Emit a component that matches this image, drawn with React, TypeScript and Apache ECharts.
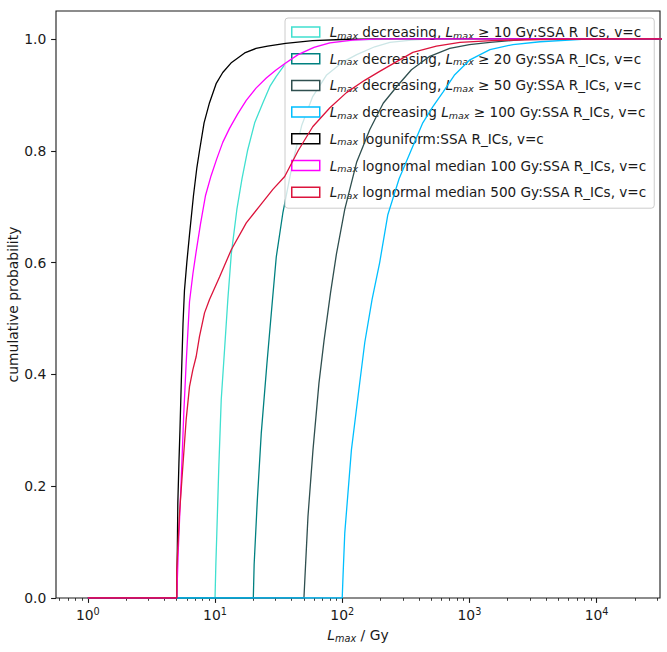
import { useEffect, useRef } from 'react';
import * as echarts from 'echarts';

const FONT = 'DejaVu Sans';
const TEXT = '#1a1a1a';

// tick positions on the log x axis and the linear y axis
const xMajorTicks = [1, 10, 100, 1000, 10000];
const xMinorTicks = [
    0.6, 0.7, 0.8, 0.9,
    2, 3, 4, 5, 6, 7, 8, 9,
    20, 30, 40, 50, 60, 70, 80, 90,
    200, 300, 400, 500, 600, 700, 800, 900,
    2000, 3000, 4000, 5000, 6000, 7000, 8000, 9000,
    20000, 30000,
];
const yTicks = [0, 0.2, 0.4, 0.6, 0.8, 1.0];

const seriesNames = [
    'Lmax decreasing, Lmax ≥ 10 Gy:SSA R_ICs, v=c',
    'Lmax decreasing, Lmax ≥ 20 Gy:SSA R_ICs, v=c',
    'Lmax decreasing, Lmax ≥ 50 Gy:SSA R_ICs, v=c',
    'Lmax decreasing Lmax ≥ 100 Gy:SSA R_ICs, v=c',
    'Lmax loguniform:SSA R_ICs, v=c',
    'Lmax lognormal median 100 Gy:SSA R_ICs, v=c',
    'Lmax lognormal median 500 Gy:SSA R_ICs, v=c',
];
const legendLabels = [
    '{i|L}{s|max} decreasing, {i|L}{s|max} ≥ 10 Gy:SSA R_ICs, v=c',
    '{i|L}{s|max} decreasing, {i|L}{s|max} ≥ 20 Gy:SSA R_ICs, v=c',
    '{i|L}{s|max} decreasing, {i|L}{s|max} ≥ 50 Gy:SSA R_ICs, v=c',
    '{i|L}{s|max} decreasing {i|L}{s|max} ≥ 100 Gy:SSA R_ICs, v=c',
    '{i|L}{s|max} loguniform:SSA R_ICs, v=c',
    '{i|L}{s|max} lognormal median 100 Gy:SSA R_ICs, v=c',
    '{i|L}{s|max} lognormal median 500 Gy:SSA R_ICs, v=c',
];
const seriesColors = ['#40E0D0', '#008080', '#2F4F4F', '#00BFFF', '#000000', '#FF00FF', '#DC143C'];

// cumulative probability vs Lmax [Gy]
const decreasing10 = [
    [1, 0], [10, 0], [10.15, 0.06], [10.33, 0.116], [10.71, 0.235], [11.19, 0.355], [11.88, 0.444],
    [12.61, 0.534], [13.42, 0.615], [14.85, 0.695], [16.3, 0.75], [18.0, 0.8], [20.5, 0.85],
    [23.8, 0.886], [27, 0.915], [30.3, 0.933], [35.3, 0.954], [42, 0.968], [50, 0.978], [65, 0.988],
    [80, 0.993], [120, 0.997], [200, 0.999], [300, 1], [40000, 1],
];
const decreasing20 = [
    [1, 0], [20, 0], [20.3, 0.06], [21.5, 0.175], [23.1, 0.295], [25.6, 0.42], [28.2, 0.53],
    [30.3, 0.61], [34.2, 0.69], [40.8, 0.779], [48, 0.845], [58.6, 0.897], [75, 0.935], [100, 0.958],
    [130, 0.972], [180, 0.986], [237, 0.994], [350, 0.998], [500, 1], [40000, 1],
];
const decreasing50 = [
    [1, 0], [50, 0], [51, 0.04], [53.8, 0.146], [58.9, 0.265], [65.6, 0.384], [71.9, 0.46],
    [80.8, 0.545], [90, 0.615], [104.7, 0.695], [130, 0.78], [164.8, 0.838], [210, 0.885],
    [268.7, 0.915], [350, 0.945], [488, 0.969], [700, 0.983], [1000, 0.99], [1450, 0.994],
    [3000, 1], [40000, 1],
];
const decreasing100 = [
    [1, 0], [100, 0], [101.5, 0.04], [104.7, 0.116], [118.1, 0.265], [137.3, 0.385], [150.4, 0.457],
    [171.7, 0.534], [197, 0.6], [228, 0.685], [280, 0.75], [359, 0.808], [430, 0.85], [516, 0.879],
    [620, 0.905], [760, 0.935], [1000, 0.962], [1450, 0.981], [2200, 0.99], [3590, 0.995],
    [8890, 1], [40000, 1],
];
const logUniform = [
    [1, 0], [5, 0], [5.05, 0.08], [5.1, 0.17], [5.2, 0.24], [5.3, 0.3], [5.45, 0.4], [5.6, 0.49],
    [5.75, 0.55], [6.0, 0.6], [6.3, 0.65], [6.77, 0.72], [7.2, 0.77], [7.55, 0.8], [8.2, 0.85],
    [9.05, 0.886], [10.2, 0.92], [11.5, 0.94], [13.5, 0.958], [17.1, 0.975], [21, 0.983],
    [25.9, 0.987], [35.9, 0.992], [58.6, 0.997], [100, 0.999], [200, 1], [40000, 1],
];
const logNormal100 = [
    [1, 0], [5, 0], [5.15, 0.09], [5.42, 0.21], [5.68, 0.33], [5.93, 0.42], [6.3, 0.53],
    [6.7, 0.58], [7.11, 0.62], [7.7, 0.67], [8.42, 0.72], [9.3, 0.755], [10.3, 0.785],
    [11.5, 0.815], [13.0, 0.84], [15, 0.865], [17.6, 0.89], [21, 0.912], [25.3, 0.93],
    [30, 0.944], [35.9, 0.957], [45, 0.972], [60, 0.985], [80, 0.993], [120, 0.998], [200, 1],
    [40000, 1],
];
const logNormal500 = [
    [1, 0], [5, 0], [5, 0.05], [5.26, 0.152], [5.58, 0.235], [5.93, 0.319], [6.3, 0.378],
    [6.69, 0.408], [7.11, 0.432], [7.55, 0.468], [8.27, 0.51], [9.05, 0.534], [10.85, 0.574],
    [13.42, 0.623], [17.61, 0.671], [22.4, 0.701], [28.5, 0.731], [35.3, 0.754], [45, 0.8],
    [58.6, 0.843], [80, 0.877], [108, 0.904], [150, 0.926], [197, 0.942], [270, 0.96],
    [359, 0.976], [550, 0.987], [842, 0.994], [1500, 0.997], [3590, 0.999], [10700, 1], [40000, 1],
];

const seriesData = [decreasing10, decreasing20, decreasing50, decreasing100, logUniform, logNormal100, logNormal500];

const X_MIN = 0.562;
const X_MAX = 31500;

const lmaxRich = {
    i: { fontFamily: FONT, fontStyle: 'italic', fontSize: 13.9, lineHeight: 16, color: TEXT },
    s: { fontFamily: FONT, fontStyle: 'italic', fontSize: 9.7, lineHeight: 10, verticalAlign: 'bottom', color: TEXT },
};
const legendRich = {
    i: { fontFamily: FONT, fontStyle: 'italic', fontSize: 13.6, lineHeight: 16, color: TEXT },
    s: { fontFamily: FONT, fontStyle: 'italic', fontSize: 9.5, lineHeight: 10, verticalAlign: 'bottom', color: TEXT },
};

const App: React.FC = () => {
    const chartRef = useRef<HTMLDivElement>(null);

    useEffect(() => {
        if (!chartRef.current) return;
        const chart = echarts.init(chartRef.current, null, { renderer: 'svg' });

        const option: echarts.EChartsOption = {
            animation: false,
            backgroundColor: '#fff',
            textStyle: { fontFamily: FONT },
            grid: {
                left: 56,
                top: 11,
                width: 604,
                height: 587,
                outerBoundsMode: 'none',
                show: true,
                borderColor: '#1a1a1a',
                borderWidth: 1.1,
                backgroundColor: 'transparent',
            } as any,
            legend: {
                orient: 'vertical',
                left: 285,
                top: 18,
                padding: [6, 8, 8, 6],
                itemWidth: 28,
                itemHeight: 10,
                itemGap: 10.7,
                selectedMode: false,
                backgroundColor: 'rgba(255,255,255,0.8)',
                borderColor: '#cccccc',
                borderWidth: 1,
                borderRadius: 3,
                data: seriesNames.map((name, i) => ({
                    name,
                    icon: 'rect',
                    itemStyle: { color: '#fff', borderColor: seriesColors[i], borderWidth: 1.5 },
                })),
                formatter: (name: string) => legendLabels[seriesNames.indexOf(name)],
                textStyle: {
                    fontFamily: FONT,
                    fontSize: 13.6,
                    lineHeight: 16,
                    color: TEXT,
                    padding: [0, 0, 0, 5],
                    rich: legendRich,
                },
            },
            xAxis: [
                {
                    type: 'log',
                    logBase: 10,
                    min: X_MIN,
                    max: X_MAX,
                    position: 'bottom',
                    axisLine: { show: false },
                    splitLine: { show: false },
                    axisTick: {
                        show: true,
                        length: 4.9,
                        lineStyle: { color: '#1a1a1a', width: 1.1 },
                        customValues: xMajorTicks,
                    },
                    axisLabel: {
                        customValues: xMajorTicks,
                        margin: 8,
                        formatter: (v: number) => `{b|10}{p|${Math.round(Math.log10(v))}}`,
                        rich: {
                            b: { fontFamily: FONT, fontSize: 13.9, lineHeight: 18, color: TEXT },
                            p: { fontFamily: FONT, fontSize: 9.7, lineHeight: 10, verticalAlign: 'top', color: TEXT },
                        },
                    },
                    name: '{i|L}{s|max} / Gy',
                    nameLocation: 'middle',
                    nameGap: 29,
                    nameMoveOverlap: false,
                    nameTextStyle: { fontFamily: FONT, fontSize: 13.9, lineHeight: 16, color: TEXT, rich: lmaxRich },
                } as any,
                {
                    type: 'log',
                    logBase: 10,
                    min: X_MIN,
                    max: X_MAX,
                    position: 'bottom',
                    axisLine: { show: false },
                    splitLine: { show: false },
                    axisLabel: { show: false },
                    axisTick: {
                        show: true,
                        length: 2.8,
                        lineStyle: { color: '#1a1a1a', width: 0.85 },
                        customValues: xMinorTicks,
                    },
                },
            ],
            yAxis: {
                type: 'value',
                min: 0,
                max: 1.05,
                axisLine: { show: false },
                splitLine: { show: false },
                axisTick: {
                    show: true,
                    length: 4.9,
                    lineStyle: { color: '#1a1a1a', width: 1.1 },
                    customValues: yTicks,
                },
                axisLabel: {
                    customValues: yTicks,
                    margin: 9.7,
                    formatter: (v: number) => v.toFixed(1),
                    fontFamily: FONT,
                    fontSize: 13.9,
                    color: TEXT,
                },
                name: 'cumulative probability',
                nameLocation: 'middle',
                nameRotate: 90,
                nameGap: 35,
                nameMoveOverlap: false,
                nameTextStyle: { fontFamily: FONT, fontSize: 13.9, lineHeight: 16, color: TEXT },
            } as any,
            series: seriesNames.map((name, i) => ({
                type: 'line',
                name,
                xAxisIndex: 0,
                data: seriesData[i],
                showSymbol: false,
                symbol: 'none',
                silent: true,
                z: 2 + i,
                lineStyle: { color: seriesColors[i], width: 1.3 },
                itemStyle: { color: seriesColors[i] },
            })),
        };

        chart.setOption(option);

        return () => {
            chart.dispose();
        };
    }, []);

    return (
        <div
            ref={chartRef}
            style={{ position: 'absolute', left: 0, top: 0, width: 667, height: 652, background: '#fff' }}
        />
    );
};

export default App;
